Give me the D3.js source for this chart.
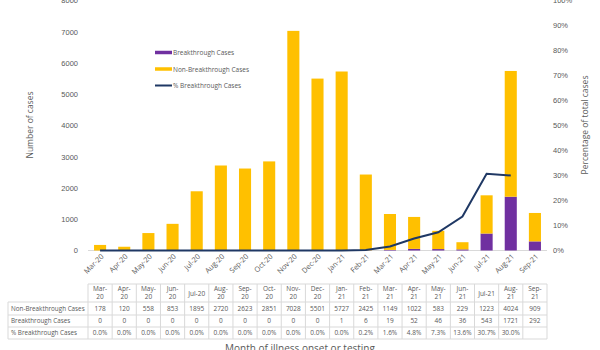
<!DOCTYPE html>
<html><head><meta charset="utf-8">
<script src="https://cdn.jsdelivr.net/npm/d3@7"></script>
<style>body{margin:0;background:#fff}svg{display:block;font-family:"Open Sans","Noto Sans",sans-serif}</style>
</head><body><svg id="c" width="600" height="350"></svg>
<script>
const months = ["Mar-20","Apr-20","May-20","Jun-20","Jul-20","Aug-20","Sep-20","Oct-20","Nov-20","Dec-20","Jan-21","Feb-21","Mar-21","Apr-21","May-21","Jun-21","Jul-21","Aug-21","Sep-21"];
const nonBreakthrough = [178,120,558,853,1895,2720,2623,2851,7028,5501,5727,2425,1149,1022,583,229,1223,4024,909];
const breakthrough = [0,0,0,0,0,0,0,0,0,0,1,6,19,52,46,36,543,1721,292];
const pctBreakthrough = [0.0,0.0,0.0,0.0,0.0,0.0,0.0,0.0,0.0,0.0,0.0,0.2,1.6,4.8,7.3,13.6,30.7,30.0,null];
const leftTicks = [0,1000,2000,3000,4000,5000,6000,7000,8000];
const rightTicks = [0,10,20,30,40,50,60,70,80,90,100];
const seriesNames = ["Breakthrough Cases","Non-Breakthrough Cases","% Breakthrough Cases"];
const colors = {b:"#7030A0", n:"#FFC000", p:"#1F3864"};
const txt = "#595959";

const svg = d3.select("#c");
const x = d3.scaleBand().domain(months).range([88,547]).paddingInner(0.5).paddingOuter(0.25);
const xb = d3.scaleBand().domain(months).range([88,547]);
const y = d3.scaleLinear().domain([0,8000]).range([250.5,0.5]);
const yp = d3.scaleLinear().domain([0,100]).range([250.5,0.5]);

// axes
const la = d3.axisLeft(y).tickValues(leftTicks).tickSize(0).tickPadding(10).tickFormat(d3.format("d"));
const gl = svg.append("g").attr("transform","translate(88,0)").call(la);
gl.select(".domain").remove();
gl.selectAll("text").attr("fill",txt).attr("font-size",7.5);
const ra = d3.axisRight(yp).tickValues(rightTicks).tickSize(0).tickPadding(6).tickFormat(d=>d+"%");
const gr = svg.append("g").attr("transform","translate(547,0)").call(ra);
gr.select(".domain").remove();
gr.selectAll("text").attr("fill",txt).attr("font-size",7.5);

// baseline
svg.append("line").attr("x1",88).attr("x2",547).attr("y1",y(0)).attr("y2",y(0)).attr("stroke","#d9d9d9");

// bars
const g = svg.append("g");
months.forEach((m,i)=>{
  g.append("rect").attr("x",x(m)).attr("width",x.bandwidth())
    .attr("y",y(breakthrough[i])).attr("height",y(0)-y(breakthrough[i])).attr("fill",colors.b);
  const tot = breakthrough[i]+nonBreakthrough[i];
  g.append("rect").attr("x",x(m)).attr("width",x.bandwidth())
    .attr("y",y(tot)).attr("height",y(breakthrough[i])-y(tot)).attr("fill",colors.n);
});

// line
const line = d3.line().defined(d=>d.v!=null).x(d=>xb(d.m)+xb.bandwidth()/2).y(d=>yp(d.v));
svg.append("path").datum(months.map((m,i)=>({m,v:pctBreakthrough[i]})))
  .attr("d",line).attr("fill","none").attr("stroke",colors.p).attr("stroke-width",2);

// x labels rotated
months.forEach(m=>{
  const cx = xb(m)+xb.bandwidth()/2;
  svg.append("text").attr("transform",`translate(${cx+4},${257}) rotate(-45)`)
    .attr("text-anchor","end").attr("font-size",7.3).attr("fill",txt).text(m);
});

// axis titles
svg.append("text").attr("transform","translate(33,125) rotate(-90)").attr("text-anchor","middle")
  .attr("font-size",8.5).attr("fill",txt).text("Number of cases");
svg.append("text").attr("transform","translate(588,125) rotate(-90)").attr("text-anchor","middle")
  .attr("font-size",8.5).attr("fill",txt).text("Percentage of total cases");

// legend
const leg = [[seriesNames[0],colors.b,3.5],[seriesNames[1],colors.n,3.5],[seriesNames[2],colors.p,2]];
leg.forEach((d,i)=>{
  const ly = 52.5+i*16.5;
  svg.append("line").attr("x1",155).attr("x2",172).attr("y1",ly).attr("y2",ly).attr("stroke",d[1]).attr("stroke-width",d[2]);
  svg.append("text").attr("x",173).attr("y",ly+2.5).attr("font-size",6.5).attr("fill",txt).text(d[0]);
});

// table
const tg = svg.append("g");
const rowY = [284,302,315,327,339];
const left = 8, colStart = 88;
const stroke = "#d9d9d9";
rowY.forEach((ry,i)=>{
  tg.append("line").attr("x1", i===0?colStart:left).attr("x2",547).attr("y1",ry).attr("y2",ry).attr("stroke",stroke);
});
tg.append("line").attr("x1",left).attr("x2",left).attr("y1",rowY[1]).attr("y2",rowY[4]).attr("stroke",stroke);
months.forEach(m=>{
  tg.append("line").attr("x1",xb(m)).attr("x2",xb(m)).attr("y1",rowY[0]).attr("y2",rowY[4]).attr("stroke",stroke);
});
tg.append("line").attr("x1",547).attr("x2",547).attr("y1",rowY[0]).attr("y2",rowY[4]).attr("stroke",stroke);
months.forEach(m=>{
  const cx = xb(m)+xb.bandwidth()/2;
  const parts = m.split("-");
  if (parts[0]==="Jul") {
    tg.append("text").attr("x",cx).attr("y",296).attr("text-anchor","middle").attr("font-size",6.5).attr("fill",txt).text(m);
  } else {
    tg.append("text").attr("x",cx).attr("y",291).attr("text-anchor","middle").attr("font-size",6.5).attr("fill",txt).text(parts[0]+"-");
    tg.append("text").attr("x",cx).attr("y",299).attr("text-anchor","middle").attr("font-size",6.5).attr("fill",txt).text(parts[1]);
  }
});
const rows = [[seriesNames[1], nonBreakthrough.map(String)],[seriesNames[0], breakthrough.map(String)],[seriesNames[2], pctBreakthrough.map(v=>v==null?"":v.toFixed(1)+"%")]];
rows.forEach((r,ri)=>{
  const ty = (rowY[ri+1]+rowY[ri+2])/2+2.3;
  tg.append("text").attr("x",left+3).attr("y",ty).attr("font-size",6.3).attr("fill",txt).text(r[0]);
  months.forEach((m,i)=>{
    tg.append("text").attr("x",xb(m)+xb.bandwidth()/2).attr("y",ty).attr("text-anchor","middle").attr("font-size",6.5).attr("fill",txt).text(r[1][i]);
  });
});

svg.append("text").attr("x",300).attr("y",352).attr("text-anchor","middle").attr("font-size",10).attr("fill",txt).text("Month of illness onset or testing");
</script></body></html>
